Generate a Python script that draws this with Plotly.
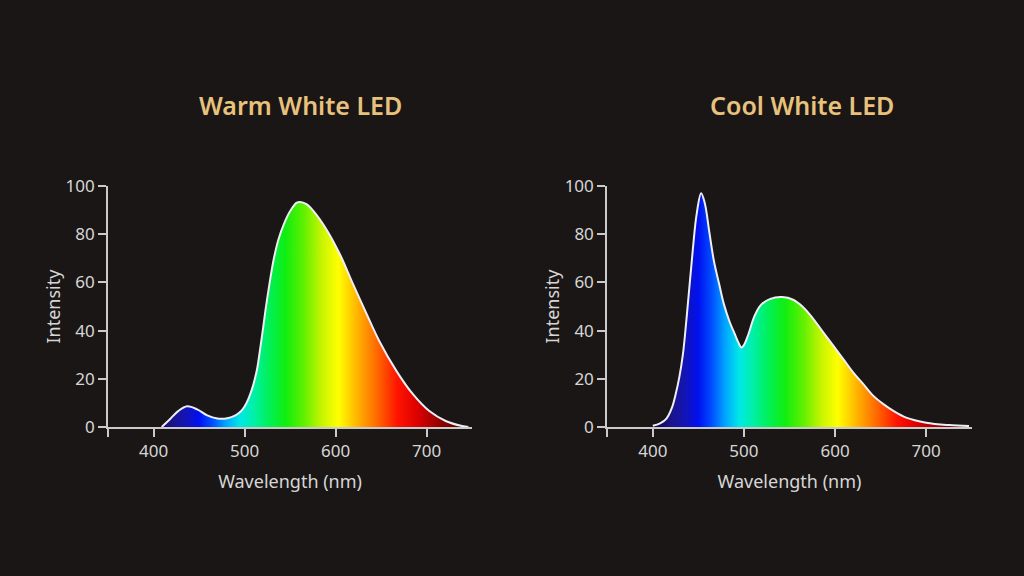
import plotly.graph_objects as go

# spectra (wavelength in nm, relative intensity)
warm_nm = [409, 418, 427, 437, 448, 459, 470, 481, 490, 496, 500, 504, 508, 511, 514,
           517, 520, 523, 527, 532, 537, 543, 550, 557, 561, 568, 576, 590, 605, 619,
           634, 648, 667, 685, 703, 721, 739, 746]
warm_int = [0, 3.2, 6.6, 8.6, 7.3, 4.8, 3.5, 3.6, 4.8, 6.5, 8.5, 11.5, 15.5, 19.5, 24.5,
            32, 40, 48.5, 58.5, 69.5, 77.5, 84, 89.5, 93, 93.4, 92.5, 89.5, 82, 71.5, 59.5,
            47, 35.7, 23.2, 13.6, 6.6, 2.5, 0.4, 0]

cool_nm = [400, 408, 415, 421, 425, 429, 433, 437, 444, 448, 453, 457, 462, 467, 473,
           478, 484, 490, 494, 497, 500, 505, 511, 518, 529, 542, 554, 565, 576, 587,
           598, 609, 620, 631, 642, 653, 664, 678, 700, 725, 747]
cool_int = [0.5, 1.5, 3.5, 8, 13.5, 20.5, 30, 45, 74, 88, 97, 93, 81, 69, 59,
            51, 44, 38.5, 35, 33, 34, 38.6, 45.5, 50.4, 53.2, 53.9, 52.8, 49.7, 44.9, 39.3,
            33.8, 28.2, 22.6, 17.8, 12.9, 9.5, 6.7, 3.9, 1.8, 0.8, 0.4]

titles = ["Warm White LED", "Cool White LED"]
x_ticks = [350, 400, 500, 600, 700]
x_ticktext = ["", "400", "500", "600", "700"]
y_ticks = [0, 20, 40, 60, 80, 100]

# wavelength -> colour stops for the spectrum fill
spectrum = [
    (400, "#14004a"), (420, "#1a1488"), (435, "#1414b4"), (450, "#0010f0"),
    (465, "#0050ff"), (480, "#00a8ff"), (495, "#00e8e6"), (510, "#00f0a8"),
    (525, "#00f060"), (545, "#10ee10"), (565, "#60f000"), (585, "#c8f400"),
    (603, "#ffff00"), (625, "#ffb000"), (648, "#ff6000"), (668, "#ff1400"),
    (690, "#dc0000"), (715, "#900000"), (750, "#3c0000"),
]
grad_lo, grad_hi = 400, 750
colorscale = [[(w - grad_lo) / (grad_hi - grad_lo), c] for w, c in spectrum]

bg = "#1a1615"
axis_col = "#cacaca"
text_col = "#d6d6d6"
gold = "#e8c27c"
font = "Noto Sans"

fig = go.Figure()
for i, (nm, val) in enumerate([(warm_nm, warm_int), (cool_nm, cool_int)]):
    sfx = "" if i == 0 else str(i + 1)
    fig.add_trace(go.Scatter(
        x=nm, y=val, xaxis="x" + sfx, yaxis="y" + sfx,
        mode="lines", line=dict(color="#eeeef4", width=2, shape="spline", smoothing=1),
        fill="tozeroy",
        fillgradient=dict(type="horizontal", colorscale=colorscale, start=grad_lo, stop=grad_hi),
        showlegend=False, hoverinfo="skip",
    ))

x_domains = [[0.1055, 0.461], [0.593, 0.949]]
y_domain = [0.2587, 0.677]
title_x = [0.293, 0.783]

axis_common = dict(
    showline=True, linecolor=axis_col, linewidth=2, ticks="outside", tickwidth=2,
    tickcolor=axis_col, ticklen=8, showgrid=False, zeroline=False, automargin=False,
    tickfont=dict(family=font, size=17, color=text_col),
)

layout = dict(
    width=1024, height=576, paper_bgcolor=bg, plot_bgcolor=bg,
    margin=dict(l=0, r=0, t=0, b=0, autoexpand=False), annotations=[],
)
for i in range(2):
    sfx = "" if i == 0 else str(i + 1)
    layout["xaxis" + sfx] = dict(
        axis_common, domain=x_domains[i], range=[350, 750], anchor="y" + sfx,
        tickvals=x_ticks, ticktext=x_ticktext,
        title=dict(text="Wavelength (nm)", font=dict(family=font, size=18, color=text_col), standoff=14),
    )
    layout["yaxis" + sfx] = dict(
        axis_common, domain=y_domain, range=[0, 100], anchor="x" + sfx,
        tickvals=y_ticks,
        title=dict(text="Intensity", font=dict(family=font, size=18, color=text_col), standoff=0),
    )
    layout["annotations"].append(dict(
        text=titles[i], xref="paper", yref="paper", x=title_x[i], y=0.818,
        xanchor="center", yanchor="middle", showarrow=False,
        font=dict(family=font, size=25, color=gold, weight=600),
    ))

fig.update_layout(**layout)
fig.write_html("out.html", config={"displayModeBar": False},
               post_script="document.body.style.margin='0';")
